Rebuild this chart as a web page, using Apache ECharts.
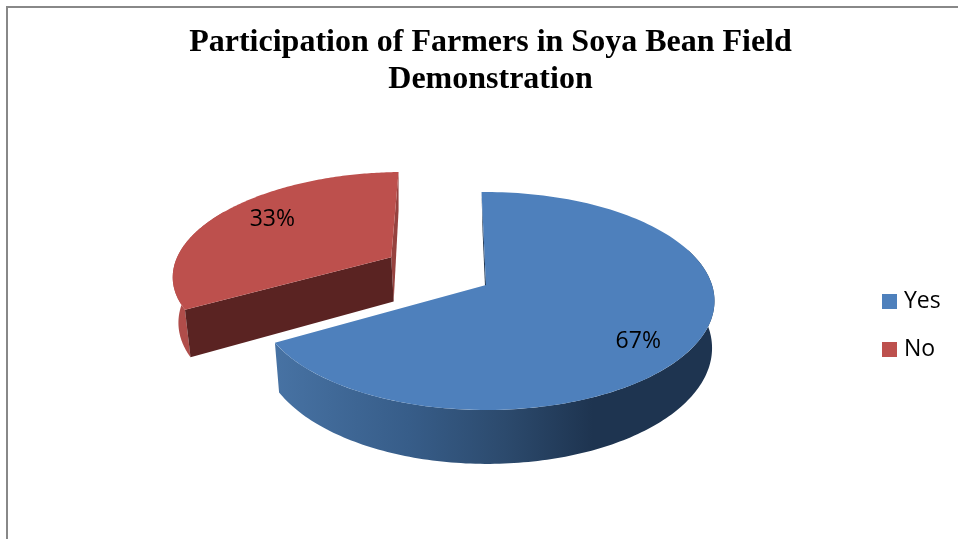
<!DOCTYPE html>
<html>
<head>
<meta charset="utf-8">
<style>html,body{margin:0;padding:0;background:#fff}#c{width:958px;height:539px}</style>
<script src="https://cdn.jsdelivr.net/npm/echarts@6/dist/echarts.min.js"></script>
</head>
<body>
<div id="c"></div>
<script>
var titleLines = ['Participation of Farmers in Soya Bean Field', 'Demonstration'];
var categories = ['Yes', 'No'];
var values = [67, 33];
var explode = [0, 0.513];
var explodeTurn = [0, 2.5];
var sliceRadius = [1, 0.985];
var labelRadius = [0.79, 0.74];
var labelTurn = [8.3, 5.7];
var wallFrom = [70, 238];
var wallTo = [240, 300];
var faceColors = ['#4e80bc', '#bd504d'];
var cutColors = ['#1e3450', '#5a2322'];
var backCutColors = ['#1e3450', '#96423f'];

// Tilted-disc view of the pie
var VIEW = { cx: 486, cy: 285, A: 226, B: 106.6, k: 0.147, depth: 46, shrink: 0.985, lowShift: 1, start: -1.3 };
var total = values.reduce(function (a, b) { return a + b; }, 0);
var rad = Math.PI / 180;

function project(q, bottom) {
  var w = 1 + VIEW.k * q[1];
  var x = VIEW.A * q[0] / w, y = -VIEW.B * q[1] / w;
  if (bottom) { x = x * VIEW.shrink + VIEW.lowShift; y += VIEW.depth / w; }
  return [VIEW.cx + x, VIEW.cy + y];
}
function planePoint(origin, deg, r) {
  return [origin[0] + r * Math.sin(deg * rad), origin[1] + r * Math.cos(deg * rad)];
}
function sliceSpan(i) {
  var before = 0;
  for (var j = 0; j < i; j++) before += values[j];
  return [VIEW.start + before / total * 360, VIEW.start + (before + values[i]) / total * 360];
}
function arc(origin, a0, a1, r, bottom) {
  var pts = [], n = 160;
  for (var s = 0; s <= n; s++) pts.push(project(planePoint(origin, a0 + (a1 - a0) * s / n, r), bottom));
  return pts;
}
function poly(points, fill) {
  return { type: 'polygon', shape: { points: points }, style: { fill: fill }, silent: true };
}
function wallFill(i) {
  if (i === 0) {
    return new echarts.graphic.LinearGradient(277, 0, 715, 0, [
      { offset: 0, color: '#4772a3' },
      { offset: 0.3, color: '#375d89' },
      { offset: 0.52, color: '#2c4a6d' },
      { offset: 0.72, color: '#1e3450' },
      { offset: 1, color: '#1e3450' }
    ], true);
  }
  return '#b04d4a';
}
function renderSlice(params, api) {
  var i = params.seriesIndex === 0 ? 1 : 0;
  var span = sliceSpan(i), a0 = span[0], a1 = span[1], mid = (a0 + a1) / 2, r = sliceRadius[i];
  var origin = planePoint([0, 0], mid + explodeTurn[i], explode[i]);
  var apex = project(origin, false), apexB = project(origin, true);
  var p0 = project(planePoint(origin, a0, r), false), p0B = project(planePoint(origin, a0, r), true);
  var p1 = project(planePoint(origin, a1, r), false), p1B = project(planePoint(origin, a1, r), true);
  if (i === 1) p1B[0] = p1[0];
  var top = arc(origin, a0, a1, r, false);
  var wallTop = arc(origin, Math.max(a0, wallFrom[i]), Math.min(a1, wallTo[i]), r, false);
  var wallLow = arc(origin, Math.max(a0, wallFrom[i]), Math.min(a1, wallTo[i]), r, true);
  var labelAt = project(planePoint(origin, mid + labelTurn[i], labelRadius[i]), false);
  var value = api.value(0);
  var children = [
    poly(wallTop.concat(wallLow.slice().reverse()), wallFill(i)),
    poly([apex, i === 0 ? p0 : p1, i === 0 ? p0B : p1B, apexB], backCutColors[i]),
    poly([apex, i === 0 ? p1 : p0, i === 0 ? p1B : p0B, apexB], cutColors[i]),
    poly([apex].concat(top), faceColors[i]),
    { type: 'text', silent: true, style: {
        x: labelAt[0], y: labelAt[1] + 1.5, text: Math.round(value / total * 100) + '%',
        font: '23px "Open Sans", sans-serif', fill: '#000', align: 'center', verticalAlign: 'middle' } }
  ];
  if (i === 0) children.splice(2, 1);
  return { type: 'group', children: children };
}

var chart = echarts.init(document.getElementById('c'), null, { renderer: 'canvas' });
chart.setOption({
  animation: false,
  backgroundColor: '#fff',
  title: {
    text: titleLines.join('\n'), left: 485.5, top: 19, textAlign: 'center',
    textStyle: { fontFamily: 'Liberation Serif', fontWeight: 'bold', fontSize: 32, lineHeight: 37, color: '#000' }
  },
  legend: {
    data: categories, orient: 'vertical', left: 877, top: 285, icon: 'rect',
    itemWidth: 15, itemHeight: 15, itemGap: 25,
    textStyle: { fontFamily: 'Open Sans', fontSize: 23, color: '#000', padding: [0, 0, 0, 2] }
  },
  graphic: [
    { type: 'line', shape: { x1: 6, y1: 7, x2: 958, y2: 7 }, style: { stroke: '#888', lineWidth: 2 }, silent: true },
    { type: 'line', shape: { x1: 7, y1: 6, x2: 7, y2: 539 }, style: { stroke: '#888', lineWidth: 2 }, silent: true }
  ],
  series: [
    { type: 'custom', name: categories[1], coordinateSystem: 'none', renderItem: renderSlice, data: [[values[1]]], itemStyle: { color: faceColors[1] } },
    { type: 'custom', name: categories[0], coordinateSystem: 'none', renderItem: renderSlice, data: [[values[0]]], itemStyle: { color: faceColors[0] } }
  ]
});
</script>
</body>
</html>
